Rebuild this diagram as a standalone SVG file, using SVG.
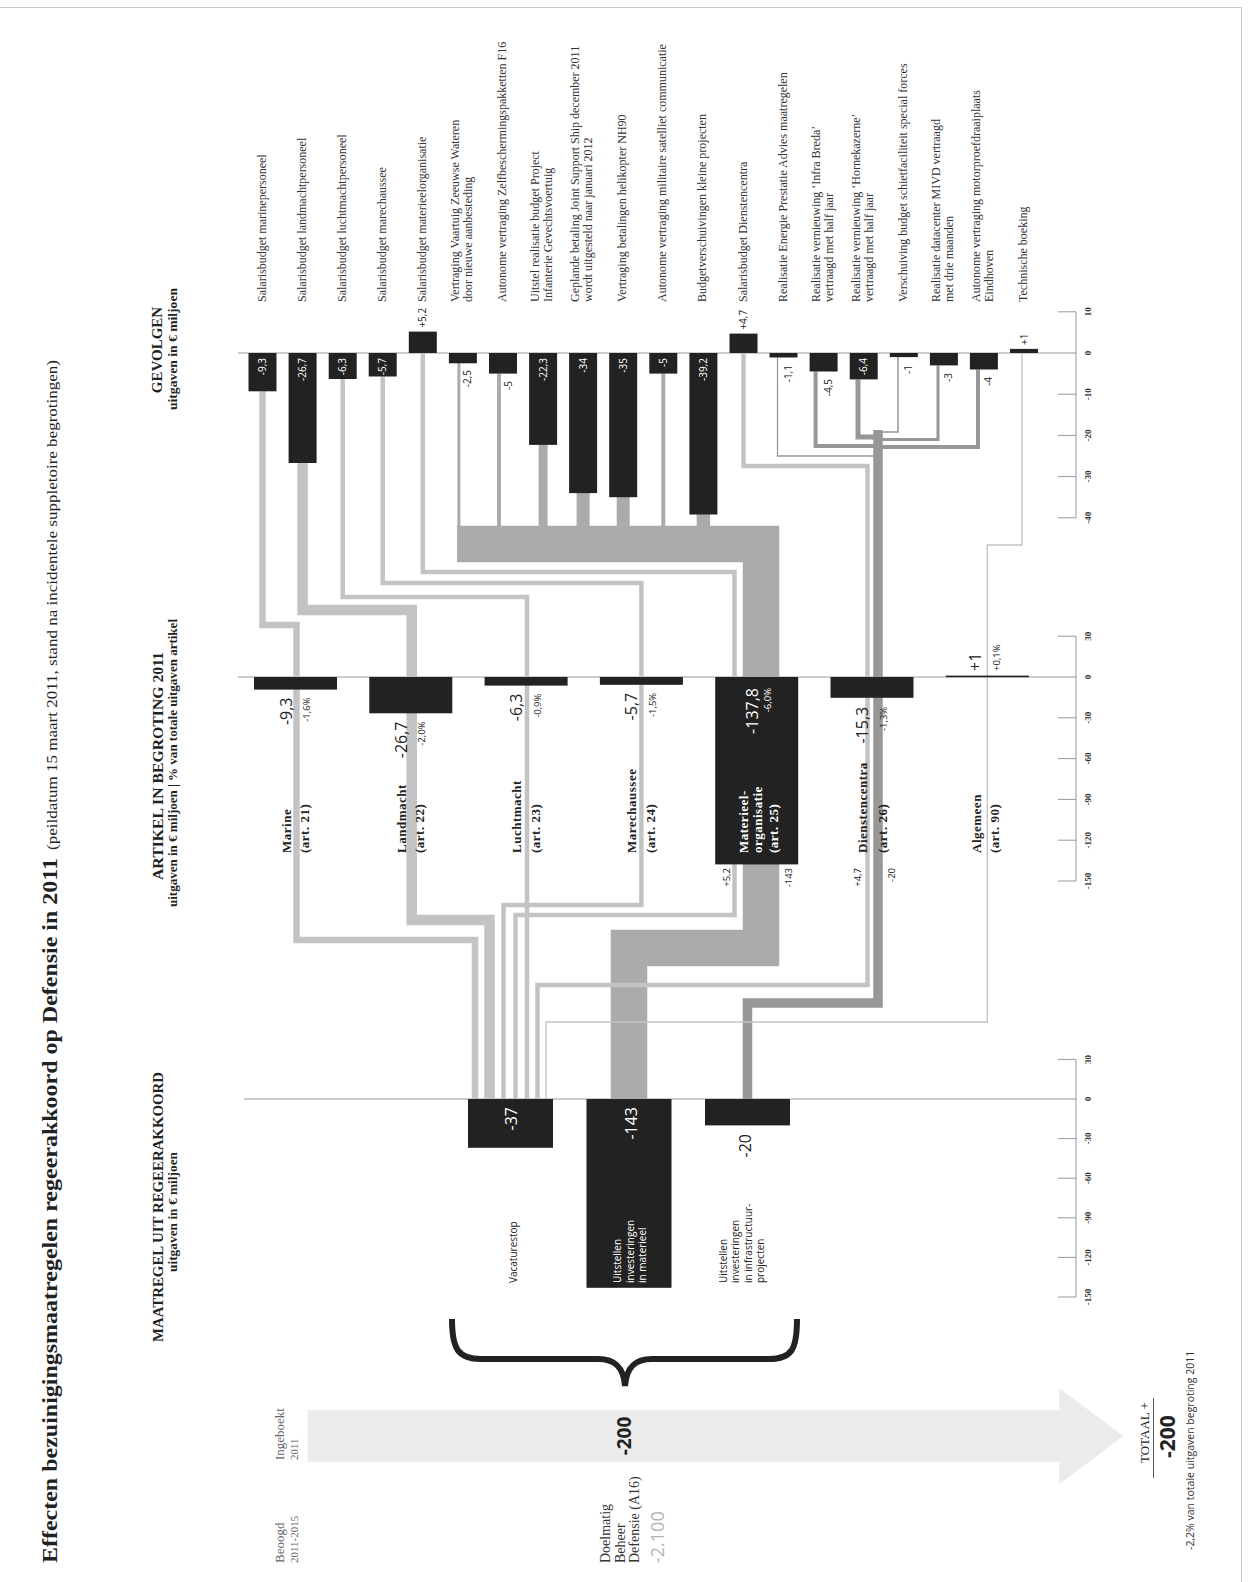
<svg xmlns="http://www.w3.org/2000/svg" width="1249" height="1582" viewBox="0 0 1249 1582">
<style>
.lbl{font-family:"Liberation Serif","Times New Roman",serif;font-size:12px;fill:#333}
.val{font-family:"Open Sans","Liberation Sans",sans-serif;font-size:10px;fill:#222}
.vw{font-family:"Open Sans","Liberation Sans",sans-serif;font-size:10px;fill:#fff}
.big{font-family:"Open Sans","Liberation Sans",sans-serif;font-size:16px;fill:#222}
.bigw{font-family:"Open Sans","Liberation Sans",sans-serif;font-size:16px;fill:#fff}
.pct{font-family:"Open Sans","Liberation Sans",sans-serif;font-size:9.5px;fill:#222}
.pctw{font-family:"Open Sans","Liberation Sans",sans-serif;font-size:9.5px;fill:#fff}
.sm{font-family:"Open Sans","Liberation Sans",sans-serif;font-size:10px;fill:#222}
.smw{font-family:"Open Sans","Liberation Sans",sans-serif;font-size:10px;fill:#fff}
.name{font-family:"Liberation Serif","Times New Roman",serif;font-size:13px;font-weight:bold;letter-spacing:0.5px;fill:#222}
.namew{font-family:"Liberation Serif","Times New Roman",serif;font-size:13px;font-weight:bold;letter-spacing:0.5px;fill:#fff}
.ax{font-family:"Liberation Serif","Times New Roman",serif;font-size:9px;font-weight:bold;fill:#333;text-anchor:middle}
.head{font-family:"Liberation Serif","Times New Roman",serif;font-weight:bold;font-size:15px;fill:#222;text-anchor:middle}
.sub{font-family:"Liberation Serif","Times New Roman",serif;font-weight:bold;font-size:12px;fill:#222;text-anchor:middle}
.bar{fill:#222}
.f{fill:none;stroke-linejoin:miter;stroke-linecap:butt}
.lt{stroke:#c3c3c3}
.md{stroke:#ababab}
.dk{stroke:#979797}
.thin{stroke:#c4c4c4;stroke-width:1.4}
.axl{stroke:#9a9a9a;stroke-width:1;fill:none}
.e{text-anchor:end}
</style>

<!-- page border -->
<path d="M0 7.5 H1241.5 V1582" fill="none" stroke="#c8c8c8" stroke-width="1"/>

<!-- title -->
<g id="title">
<text transform="translate(57 1563) rotate(-90)" font-family="Liberation Serif, serif" font-weight="bold" font-size="21" fill="#222" textLength="705" lengthAdjust="spacingAndGlyphs">Effecten bezuinigingsmaatregelen regeerakkoord op Defensie in 2011</text>
<text transform="translate(57 850) rotate(-90)" font-family="Liberation Serif, serif" font-size="14" fill="#222" textLength="490" lengthAdjust="spacingAndGlyphs">(peildatum 15 maart 2011, stand na incidentele suppletoire begrotingen)</text>
</g>

<!-- headings -->
<g id="headings">
<text class="head" transform="translate(162 350) rotate(-90)">GEVOLGEN</text>
<text class="sub" transform="translate(177 349) rotate(-90)" textLength="122" lengthAdjust="spacingAndGlyphs">uitgaven in € miljoen</text>
<text class="head" transform="translate(163 766) rotate(-90)" textLength="228" lengthAdjust="spacingAndGlyphs">ARTIKEL IN BEGROTING 2011</text>
<text class="sub" transform="translate(177 763) rotate(-90)" textLength="288" lengthAdjust="spacingAndGlyphs">uitgaven in € miljoen | % van totale uitgaven artikel</text>
<text class="head" transform="translate(163 1207) rotate(-90)" textLength="270" lengthAdjust="spacingAndGlyphs">MAATREGEL UIT REGEERAKKOORD</text>
<text class="sub" transform="translate(177 1212) rotate(-90)" textLength="120" lengthAdjust="spacingAndGlyphs">uitgaven in € miljoen</text>
</g>

<!-- axes -->
<g id="axes">
<path class="axl" d="M238 353 H1076 M1076 311.8 V517.8 M1058 311.8 H1076 M1058 394.2 H1076 M1058 435.4 H1076 M1058 476.6 H1076 M1058 517.8 H1076"/>
<path class="axl" d="M238 677 H1076 M1076 636.2 V881 M1058 636.2 H1076 M1058 717.8 H1076 M1058 758.6 H1076 M1058 799.4 H1076 M1058 840.2 H1076 M1058 881 H1076"/>
<path class="axl" d="M244 1099 H1076 M1076 1059.4 V1297 M1058 1059.4 H1076 M1058 1138.6 H1076 M1058 1178.2 H1076 M1058 1217.8 H1076 M1058 1257.4 H1076 M1058 1297 H1076"/>
<text class="ax" transform="translate(1091 311.8) rotate(-90)">10</text>
<text class="ax" transform="translate(1091 353) rotate(-90)">0</text>
<text class="ax" transform="translate(1091 394.2) rotate(-90)">-10</text>
<text class="ax" transform="translate(1091 435.4) rotate(-90)">-20</text>
<text class="ax" transform="translate(1091 476.6) rotate(-90)">-30</text>
<text class="ax" transform="translate(1091 517.8) rotate(-90)">-40</text>
<text class="ax" transform="translate(1091 636.2) rotate(-90)">30</text>
<text class="ax" transform="translate(1091 677) rotate(-90)">0</text>
<text class="ax" transform="translate(1091 717.8) rotate(-90)">-30</text>
<text class="ax" transform="translate(1091 758.6) rotate(-90)">-60</text>
<text class="ax" transform="translate(1091 799.4) rotate(-90)">-90</text>
<text class="ax" transform="translate(1091 840.2) rotate(-90)">-120</text>
<text class="ax" transform="translate(1091 881) rotate(-90)">-150</text>
<text class="ax" transform="translate(1091 1059.4) rotate(-90)">30</text>
<text class="ax" transform="translate(1091 1099) rotate(-90)">0</text>
<text class="ax" transform="translate(1091 1138.6) rotate(-90)">-30</text>
<text class="ax" transform="translate(1091 1178.2) rotate(-90)">-60</text>
<text class="ax" transform="translate(1091 1217.8) rotate(-90)">-90</text>
<text class="ax" transform="translate(1091 1257.4) rotate(-90)">-120</text>
<text class="ax" transform="translate(1091 1297) rotate(-90)">-150</text>
</g>

<!-- connectors -->
<g id="connectors">
<!-- materieel 143 band -->
<path class="f md" stroke-width="36.5" d="M457 544 H761 V948 H629 V1099"/>
<path class="f md" stroke-width="3" d="M458.9 363 V527"/>
<path class="f md" stroke-width="4" d="M499 373.6 V527"/>
<path class="f md" stroke-width="9" d="M543.1 444.9 V527"/>
<path class="f md" stroke-width="13" d="M583.1 493 V527"/>
<path class="f md" stroke-width="13" d="M623.2 497 V527"/>
<path class="f md" stroke-width="4" d="M663.3 373.6 V527"/>
<path class="f md" stroke-width="13.5" d="M703.4 514 V527"/>
<!-- infrastructure 20 -->
<path class="f dk" stroke-width="9.5" d="M878 430 V1003 H747.5 V1099"/>
<path class="f" stroke="#9a9a9a" stroke-width="1.3" d="M777.5 357.5 V456 H878"/>
<path class="f dk" stroke-width="4" d="M815.6 371.5 V446 H878"/>
<path class="f dk" stroke-width="5" d="M858 379.4 V437 H878"/>
<path class="f dk" stroke-width="1.5" d="M898 357.1 V432 H878"/>
<path class="f dk" stroke-width="3" d="M938 365.4 V439.5 H878"/>
<path class="f dk" stroke-width="4" d="M978 369.5 V447 H878"/>
<!-- salary / vacaturestop -->
<path class="f lt" stroke-width="6.5" d="M262.5 391.3 V625 H296.5 V940 H475 V1099"/>
<path class="f lt" stroke-width="10.5" d="M302.6 463 V610 H411.7 V920 H489.5 V1099"/>
<path class="f lt" stroke-width="4.5" d="M342.7 379 V597 H527 V1099"/>
<path class="f lt" stroke-width="4.5" d="M382.7 376.5 V583 H641.4 V905 H503.5 V1099"/>
<path class="f lt" stroke-width="4.5" d="M422.8 353 V572 H734.5 V915 H515.5 V1099"/>
<path class="f lt" stroke-width="4.5" d="M743.5 353 V466 H867.5 V985 H537.5 V1099"/>
<path class="f thin" d="M1022 353 V545 H987.3 V1022 H546 V1099"/>
</g>

<!-- GEVOLGEN nodes -->
<g id="g0"><rect class="bar" x="248.5" y="353" width="28" height="38.3"/><text class="vw e" transform="translate(266 358) rotate(-90)">-9,3</text><text class="lbl" transform="translate(265.5 302) rotate(-90)">Salarisbudget marinepersoneel</text></g>
<g id="g1"><rect class="bar" x="288.6" y="353" width="28" height="110"/><text class="vw e" transform="translate(306.1 358) rotate(-90)">-26,7</text><text class="lbl" transform="translate(305.6 302) rotate(-90)">Salarisbudget landmachtpersoneel</text></g>
<g id="g2"><rect class="bar" x="328.7" y="353" width="28" height="26"/><text class="vw e" transform="translate(346.2 358) rotate(-90)">-6,3</text><text class="lbl" transform="translate(345.7 302) rotate(-90)">Salarisbudget luchtmachtpersoneel</text></g>
<g id="g3"><rect class="bar" x="368.7" y="353" width="28" height="23.5"/><text class="vw e" transform="translate(386.2 358) rotate(-90)">-5,7</text><text class="lbl" transform="translate(385.7 302) rotate(-90)">Salarisbudget marechaussee</text></g>
<g id="g4"><rect class="bar" x="408.8" y="331.6" width="28" height="21.4"/><text class="val" transform="translate(426.3 327.6) rotate(-90)">+5,2</text><text class="lbl" transform="translate(425.8 302) rotate(-90)">Salarisbudget materieelorganisatie</text></g>
<g id="g5"><rect class="bar" x="448.9" y="353" width="28" height="10.3"/><text class="val e" transform="translate(470.9 370) rotate(-90)">-2,5</text><text class="lbl" transform="translate(458.9 302) rotate(-90)"><tspan x="0" y="0">Vertraging Vaartuig Zeeuwse Wateren</tspan><tspan x="0" y="13">door nieuwe aanbesteding</tspan></text></g>
<g id="g6"><rect class="bar" x="489" y="353" width="28" height="20.6"/><text class="val e" transform="translate(511.5 381) rotate(-90)">-5</text><text class="lbl" transform="translate(506 302) rotate(-90)">Autonome vertraging Zelfbeschermingspakketten F16</text></g>
<g id="g7"><rect class="bar" x="529.1" y="353" width="28" height="91.9"/><text class="vw e" transform="translate(546.6 358) rotate(-90)">-22,3</text><text class="lbl" transform="translate(539.1 302) rotate(-90)"><tspan x="0" y="0">Uitstel realisatie budget Project</tspan><tspan x="0" y="13">Infanterie Gevechtsvoertuig</tspan></text></g>
<g id="g8"><rect class="bar" x="569.1" y="353" width="28" height="140.1"/><text class="vw e" transform="translate(586.6 358) rotate(-90)">-34</text><text class="lbl" transform="translate(579.1 302) rotate(-90)"><tspan x="0" y="0">Geplande betaling Joint Support Ship december 2011</tspan><tspan x="0" y="13">wordt uitgesteld naar januari 2012</tspan></text></g>
<g id="g9"><rect class="bar" x="609.2" y="353" width="28" height="144.2"/><text class="vw e" transform="translate(626.7 358) rotate(-90)">-35</text><text class="lbl" transform="translate(626.2 302) rotate(-90)">Vertraging betalingen helikopter NH90</text></g>
<g id="g10"><rect class="bar" x="649.3" y="353" width="28" height="20.6"/><text class="vw e" transform="translate(666.8 358) rotate(-90)">-5</text><text class="lbl" transform="translate(666.3 302) rotate(-90)">Autonome vertraging militaire satelliet communicatie</text></g>
<g id="g11"><rect class="bar" x="689.4" y="353" width="28" height="161.5"/><text class="vw e" transform="translate(706.9 358) rotate(-90)">-39,2</text><text class="lbl" transform="translate(706.4 302) rotate(-90)">Budgetverschuivingen kleine projecten</text></g>
<g id="g12"><rect class="bar" x="729.5" y="333.6" width="28" height="19.4"/><text class="val" transform="translate(747 329.6) rotate(-90)">+4,7</text><text class="lbl" transform="translate(746.5 302) rotate(-90)">Salarisbudget Dienstencentra</text></g>
<g id="g13"><rect class="bar" x="769.5" y="353" width="28" height="4.5"/><text class="val e" transform="translate(791.5 365) rotate(-90)">-1,1</text><text class="lbl" transform="translate(786.5 302) rotate(-90)">Realisatie Energie Prestatie Advies maatregelen</text></g>
<g id="g14"><rect class="bar" x="809.6" y="353" width="28" height="18.5"/><text class="val e" transform="translate(831.6 379) rotate(-90)">-4,5</text><text class="lbl" transform="translate(819.6 302) rotate(-90)"><tspan x="0" y="0">Realisatie vernieuwing ‘Infra Breda’</tspan><tspan x="0" y="13">vertraagd met half jaar</tspan></text></g>
<g id="g15"><rect class="bar" x="849.7" y="353" width="28" height="26.4"/><text class="vw e" transform="translate(867.2 358) rotate(-90)">-6,4</text><text class="lbl" transform="translate(859.7 302) rotate(-90)"><tspan x="0" y="0">Realisatie vernieuwing ‘Hornekazerne’</tspan><tspan x="0" y="13">vertraagd met half jaar</tspan></text></g>
<g id="g16"><rect class="bar" x="889.8" y="353" width="28" height="4.1"/><text class="val e" transform="translate(911.8 365) rotate(-90)">-1</text><text class="lbl" transform="translate(906.8 302) rotate(-90)">Verschuiving budget schietfaciliteit special forces</text></g>
<g id="g17"><rect class="bar" x="929.9" y="353" width="28" height="12.4"/><text class="val e" transform="translate(951.9 373) rotate(-90)">-3</text><text class="lbl" transform="translate(939.9 302) rotate(-90)"><tspan x="0" y="0">Realisatie datacenter MIVD vertraagd</tspan><tspan x="0" y="13">met drie maanden</tspan></text></g>
<g id="g18"><rect class="bar" x="969.9" y="353" width="28" height="16.5"/><text class="val e" transform="translate(991.9 377) rotate(-90)">-4</text><text class="lbl" transform="translate(979.9 302) rotate(-90)"><tspan x="0" y="0">Autonome vertraging motorproefdraaiplaats</tspan><tspan x="0" y="13">Eindhoven</tspan></text></g>
<g id="g19"><rect class="bar" x="1010" y="348.9" width="28" height="4.1"/><text class="val" transform="translate(1027.5 345) rotate(-90)">+1</text><text class="lbl" transform="translate(1027 302) rotate(-90)">Technische boeking</text></g>

<!-- ARTIKEL nodes -->
<g id="art-marine"><rect class="bar" x="254" y="677" width="83" height="12.6"/>
<text class="big e" transform="translate(291.5 697.5) rotate(-90)">-9,3</text><text class="pct e" transform="translate(310 697.5) rotate(-90)">-1,6%</text>
<text class="name" transform="translate(290.5 853) rotate(-90)">Marine</text><text class="name" transform="translate(309 853) rotate(-90)">(art. 21)</text></g>
<g id="art-landmacht"><rect class="bar" x="369.3" y="677" width="83" height="36.3"/>
<text class="big e" transform="translate(406.8 721.5) rotate(-90)">-26,7</text><text class="pct e" transform="translate(425.3 721.5) rotate(-90)">-2,0%</text>
<text class="name" transform="translate(405.8 853) rotate(-90)">Landmacht</text><text class="name" transform="translate(424.3 853) rotate(-90)">(art. 22)</text></g>
<g id="art-luchtmacht"><rect class="bar" x="484.6" y="677" width="83" height="8.6"/>
<text class="big e" transform="translate(522.1 693.6) rotate(-90)">-6,3</text><text class="pct e" transform="translate(540.6 693.6) rotate(-90)">-0,9%</text>
<text class="name" transform="translate(521.1 853) rotate(-90)">Luchtmacht</text><text class="name" transform="translate(539.6 853) rotate(-90)">(art. 23)</text></g>
<g id="art-marechaussee"><rect class="bar" x="599.9" y="677" width="83" height="7.8"/>
<text class="big e" transform="translate(637.4 692.8) rotate(-90)">-5,7</text><text class="pct e" transform="translate(655.9 692.8) rotate(-90)">-1,5%</text>
<text class="name" transform="translate(636.4 853) rotate(-90)">Marechaussee</text><text class="name" transform="translate(654.9 853) rotate(-90)">(art. 24)</text></g>
<g id="art-materieel"><rect class="bar" x="715.2" y="677" width="83" height="187.4"/>
<text class="bigw e" transform="translate(757.7 688) rotate(-90)">-137,8</text><text class="pctw e" transform="translate(770.7 688) rotate(-90)">-6,0%</text>
<text class="namew" transform="translate(747.7 853) rotate(-90)"><tspan x="0" y="0">Materieel-</tspan><tspan x="0" y="14.5">organisatie</tspan><tspan x="0" y="30">(art. 25)</tspan></text>
<text class="pct e" transform="translate(729.5 868) rotate(-90)">+5,2</text><text class="pct e" transform="translate(791.5 868) rotate(-90)">-143</text></g>
<g id="art-dienstencentra"><rect class="bar" x="830.5" y="677" width="83" height="20.8"/>
<text class="big e" transform="translate(868 706.8) rotate(-90)">-15,3</text><text class="pct e" transform="translate(886.5 706.8) rotate(-90)">-1,3%</text>
<text class="name" transform="translate(867 853) rotate(-90)">Dienstencentra</text><text class="name" transform="translate(886.5 853) rotate(-90)">(art. 26)</text>
<text class="pct e" transform="translate(860.5 868) rotate(-90)">+4,7</text><text class="pct e" transform="translate(894.5 868) rotate(-90)">-20</text></g>
<g id="art-algemeen"><rect class="bar" x="945.8" y="675.6" width="83" height="1.6"/>
<text class="big" transform="translate(981.3 671) rotate(-90)">+1</text><text class="pct" transform="translate(1000.3 671) rotate(-90)">+0,1%</text>
<text class="name" transform="translate(981.3 853) rotate(-90)">Algemeen</text><text class="name" transform="translate(999.3 853) rotate(-90)">(art. 90)</text></g>

<!-- MAATREGEL nodes -->
<g id="m-vacaturestop"><rect class="bar" x="468" y="1099" width="85" height="48.8"/>
<text class="bigw e" transform="translate(517 1107) rotate(-90)">-37</text>
<text class="sm" transform="translate(517 1283) rotate(-90)">Vacaturestop</text></g>
<g id="m-materieel"><rect class="bar" x="586.5" y="1099" width="85" height="188.8"/>
<text class="bigw e" transform="translate(636.5 1107) rotate(-90)">-143</text>
<text class="smw" transform="translate(621 1283) rotate(-90)"><tspan x="0" y="0">Uitstellen</tspan><tspan x="0" y="12.5">investeringen</tspan><tspan x="0" y="25">in materieel</tspan></text></g>
<g id="m-infra"><rect class="bar" x="705" y="1099" width="85" height="26.4"/>
<text class="big e" transform="translate(751 1134) rotate(-90)">-20</text>
<text class="sm" transform="translate(726.5 1283) rotate(-90)"><tspan x="0" y="0">Uitstellen</tspan><tspan x="0" y="12.5">investeringen</tspan><tspan x="0" y="25">in infrastructuur-</tspan><tspan x="0" y="37.5">projecten</tspan></text></g>

<!-- brace -->
<g id="brace">
<path d="M452 1319 C452 1349 458 1359 481 1359 L598 1359 C615 1359 623.5 1367 625 1386 C626.5 1367 635 1359 652 1359 L769 1359 C792 1359 797 1349 797 1319" fill="none" stroke="#222" stroke-width="6"/>
</g>

<!-- arrow total -->
<g id="arrow">
<polygon points="307.7,1410 1059.3,1410 1059.3,1388.3 1123.3,1436 1059.3,1484.3 1059.3,1462 307.7,1462" fill="#ebebeb"/>
<text transform="translate(631 1436) rotate(-90)" font-family="Open Sans, Liberation Sans, sans-serif" font-weight="bold" font-size="19" fill="#222" text-anchor="middle">-200</text>
</g>

<g id="left-labels">
<text transform="translate(284 1563) rotate(-90)" font-family="Liberation Serif, serif" font-size="13" fill="#666"><tspan x="0" y="0">Beoogd</tspan><tspan x="0" y="14" font-size="11">2011-2015</tspan></text>
<text transform="translate(284 1460) rotate(-90)" font-family="Liberation Serif, serif" font-size="13" fill="#666"><tspan x="0" y="0">Ingeboekt</tspan><tspan x="0" y="14" font-size="11">2011</tspan></text>
<text transform="translate(610 1563) rotate(-90)" font-family="Liberation Serif, serif" font-size="14" fill="#333"><tspan x="0" y="0">Doelmatig</tspan><tspan x="0" y="14.5">Beheer</tspan><tspan x="0" y="29">Defensie (A16)</tspan></text>
<text transform="translate(664 1563) rotate(-90)" font-family="Open Sans, Liberation Sans, sans-serif" font-size="18" fill="#b3b3b3">-2.100</text>
</g>

<g id="totaal">
<text transform="translate(1149 1463) rotate(-90)" font-family="Liberation Serif, serif" font-size="13" fill="#222">TOTAAL +</text>
<line x1="1153.5" y1="1398" x2="1153.5" y2="1478" stroke="#555" stroke-width="1"/>
<text transform="translate(1175 1458) rotate(-90)" font-family="Open Sans, Liberation Sans, sans-serif" font-weight="bold" font-size="21" fill="#222">-200</text>
<text transform="translate(1194 1550) rotate(-90)" font-family="Open Sans, Liberation Sans, sans-serif" font-size="10.5" fill="#333">-2,2% van totale uitgaven begroting 2011</text>
</g>
</svg>
